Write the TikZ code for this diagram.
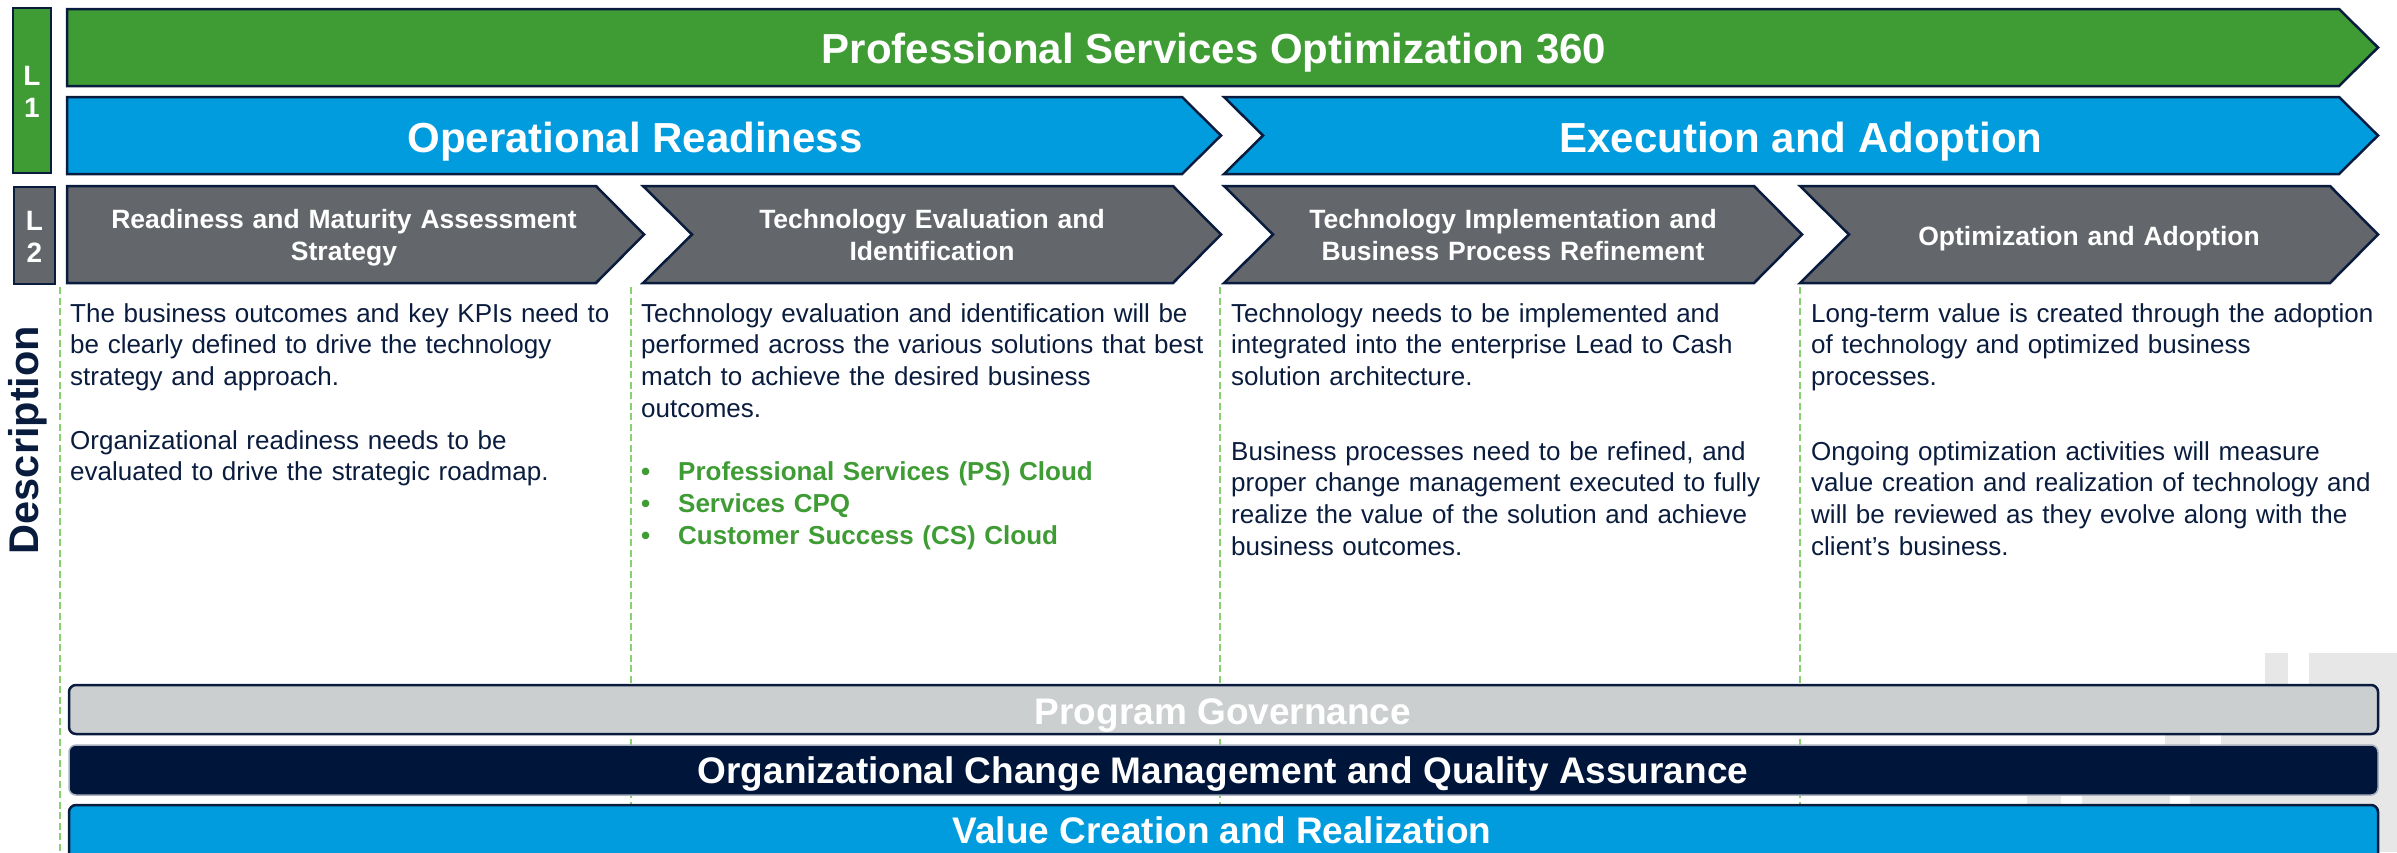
\documentclass[tikz,border=0pt]{standalone}
\usepackage{fontspec}
\setmainfont{Liberation Sans}

\definecolor{pgreen}{HTML}{3F9C35}
\definecolor{pblue}{HTML}{009CDE}
\definecolor{pgray}{HTML}{63666A}
\definecolor{navy}{HTML}{0A1C3E}
\definecolor{deepnavy}{HTML}{00153A}
\definecolor{lightbar}{HTML}{CBCFD0}
\definecolor{guidegreen}{HTML}{88D070}
\definecolor{ghost}{HTML}{E7E7E7}
\definecolor{softedge}{HTML}{A8B0BE}

\tikzset{
  outline/.style={draw=navy, line width=2.5pt, line join=miter},
  banner/.style={text=white, font=\bfseries\fontsize{42}{50}\selectfont, anchor=base, inner sep=0pt},
  stagetxt/.style={text=white, font=\bfseries\fontsize{26.5}{32}\selectfont, align=center, text width=520pt, anchor=base, inner sep=0pt},
  desc/.style={text=navy, font=\fontsize{26}{31.7}\selectfont, align=left, text width=575pt, anchor=base west, inner sep=0pt},
  bartxt/.style={text=white, font=\bfseries\fontsize{37}{44}\selectfont, anchor=base, inner sep=0pt},
  lvl/.style={text=white, font=\bfseries\fontsize{28}{32}\selectfont, align=center, text width=40pt, anchor=base, inner sep=0pt},
  guide/.style={draw=guidegreen, line width=2pt, dash pattern=on 7pt off 3.5pt},
}
\newcommand{\psbullet}[1]{\makebox[37pt][l]{\textbullet}#1}

\begin{document}
\begin{tikzpicture}[x=1pt,y=-1pt]
\useasboundingbox (0,0) rectangle (2397,852);
\begin{scope}
\clip (0,0) rectangle (2397,852);

% faint background motif, lower right
\fill[ghost] (2309,653) rectangle (2397,852);
\fill[ghost] (2265,653) rectangle (2288,852);
\fill[ghost] (2221,700) rectangle (2397,852);
\fill[ghost] (2165,700) rectangle (2200,770);
\fill[ghost] (2190,770) rectangle (2221,852);
\fill[ghost] (2082,770) rectangle (2170,852);
\fill[ghost] (2027,770) rectangle (2061,852);

% column guides
\foreach \gx in {60,631,1220,1800}
  \draw[guide] (\gx,287) -- (\gx,852);

% level markers
\draw[outline, fill=pgreen] (13,8) rectangle (51,173);
\node[lvl] (lvlone) at (32,85) {L\\1};
\draw[outline, fill=pgray] (14,187) rectangle (55,284);
\node[lvl] (lvltwo) at (34.5,230) {L\\2};

% top banner
\draw[outline, fill=pgreen] (67,9) -- (2339,9) -- (2378,47.5) -- (2339,86) -- (67,86) -- cycle;
\node[banner] (top) at (1214,63) {Professional Services Optimization 360};

% phase arrows
\draw[outline, fill=pblue] (67,97) -- (1182,97) -- (1221,135.5) -- (1182,174) -- (67,174) -- cycle;
\node[banner] (phaseA) at (635,152) {Operational Readiness};
\draw[outline, fill=pblue] (1224,97) -- (2339,97) -- (2378,135.5) -- (2339,174) -- (1224,174) -- (1263,135.5) -- cycle;
\node[banner] (phaseB) at (1801,152) {Execution and Adoption};

% stage chevrons
\draw[outline, fill=pgray] (67,186) -- (596,186) -- (644,234.5) -- (596,283) -- (67,283) -- cycle;
\node[stagetxt] (stage1) at (344,228) {Readiness and Maturity Assessment\\Strategy};
\draw[outline, fill=pgray] (643,186) -- (1173,186) -- (1221,234.5) -- (1173,283) -- (643,283) -- (692,234.5) -- cycle;
\node[stagetxt] (stage2) at (932,228) {Technology Evaluation and\\Identification};
\draw[outline, fill=pgray] (1224,186) -- (1754,186) -- (1802,234.5) -- (1754,283) -- (1224,283) -- (1273,234.5) -- cycle;
\node[stagetxt] (stage3) at (1513,228) {Technology Implementation and\\Business Process Refinement};
\draw[outline, fill=pgray] (1800,186) -- (2330,186) -- (2378,234.5) -- (2330,283) -- (1800,283) -- (1849,234.5) -- cycle;
\node[stagetxt] (stage4) at (2089,245) {Optimization and Adoption};

% side label
\node[text=navy, font=\bfseries\fontsize{41.5}{48}\selectfont, rotate=90, anchor=base, inner sep=0pt] (side) at (38,440) {Description};

% column descriptions
\node[desc] (descA) at (70,322) {The business outcomes and key KPIs need to\\
be clearly defined to drive the technology\\
strategy and approach.\\[32pt]
Organizational readiness needs to be\\
evaluated to drive the strategic roadmap.};

\node[desc] (descB) at (641,322) {Technology evaluation and identification will be\\
performed across the various solutions that best\\
match to achieve the desired business\\
outcomes.\\[32pt]
{\color{pgreen}\bfseries\psbullet{Professional Services (PS) Cloud}}\\
{\color{pgreen}\bfseries\psbullet{Services CPQ}}\\
{\color{pgreen}\bfseries\psbullet{Customer Success (CS) Cloud}}};

\node[desc] (descC) at (1231,322) {Technology needs to be implemented and\\
integrated into the enterprise Lead to Cash\\
solution architecture.\\[43pt]
Business processes need to be refined, and\\
proper change management executed to fully\\
realize the value of the solution and achieve\\
business outcomes.};

\node[desc] (descD) at (1811,322) {Long-term value is created through the adoption\\
of technology and optimized business\\
processes.\\[43pt]
Ongoing optimization activities will measure\\
value creation and realization of technology and\\
will be reviewed as they evolve along with the\\
client’s business.};

% cross-cutting bars
\draw[draw=navy, line width=2.5pt, fill=lightbar, rounded corners=7pt] (69,685) rectangle (2378,734);
\node[bartxt] (govern) at (1223,724) {Program Governance};
\draw[draw=softedge, line width=1.5pt, fill=deepnavy, rounded corners=7pt] (69,745) rectangle (2378,795);
\node[bartxt] (ocm) at (1223,783) {Organizational Change Management and Quality Assurance};
\draw[draw=navy, line width=2.5pt, fill=pblue, rounded corners=7pt] (69,805) rectangle (2378,870);
\node[bartxt] (value) at (1222,843) {Value Creation and Realization};
\end{scope}
\end{tikzpicture}
\end{document}
